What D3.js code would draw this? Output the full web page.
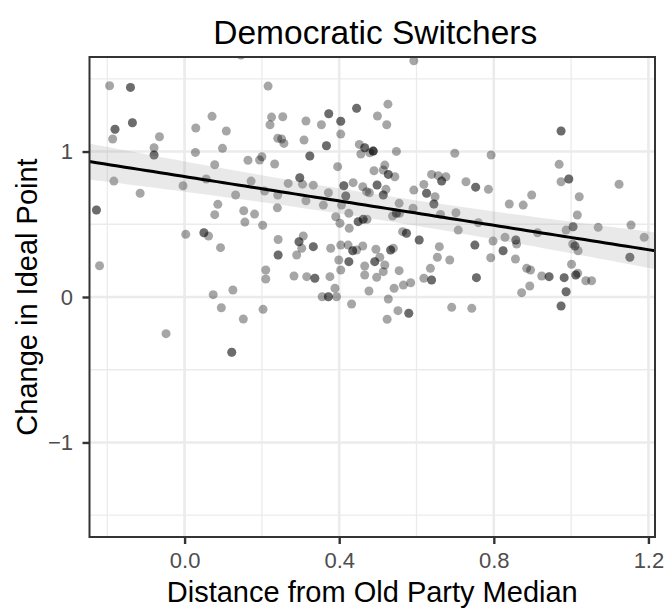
<!DOCTYPE html>
<html>
<head>
<meta charset="utf-8">
<script src="https://cdn.jsdelivr.net/npm/d3@7"></script>
<style>
body { margin: 0; background: #fff; }
text { font-family: "Liberation Sans", Arial, Helvetica, sans-serif; }
</style>
</head>
<body>
<svg id="chart" width="668" height="611"></svg>
<script>
// [distance from old party median, change in ideal point]
var switchers = [
    [0.146, 1.663], [-0.194, 1.452], [-0.140, 1.441], [-0.140, 1.441], [0.216, 1.450], [-0.180, 1.153], [-0.180, 1.153], [-0.186, 1.086], [-0.135, 1.198], [-0.135, 1.198],
    [-0.065, 1.102], [-0.079, 1.026], [-0.079, 0.976], [-0.079, 0.976], [0.071, 1.242], [0.029, 1.162], [0.108, 1.141], [0.098, 1.022], [0.028, 0.994], [0.078, 0.909],
    [0.225, 1.237], [0.221, 1.184], [0.241, 1.091], [0.164, 0.940], [0.194, 0.942], [0.200, 0.964], [0.233, 0.914], [-0.183, 0.797], [-0.004, 0.765], [0.056, 0.811],
    [0.172, 0.797],
    [-0.115, 0.713], [-0.228, 0.598], [-0.228, 0.598], [0.132, 0.701], [0.207, 0.729], [0.241, 0.701], [0.086, 0.637], [0.078, 0.566], [0.153, 0.593], [0.181, 0.570],
    [0.156, 0.515], [0.202, 0.493], [0.240, 0.613], [0.003, 0.431], [0.050, 0.442], [0.050, 0.442], [0.062, 0.419], [0.093, 0.339], [0.242, 0.395], [0.242, 0.289],
    [0.242, 0.289], [-0.220, 0.215], [0.210, 0.186], [0.210, 0.124], [0.074, 0.016], [0.125, 0.048], [0.095, -0.074], [0.203, -0.085], [0.152, -0.151], [-0.048, -0.252],
    [0.122, -0.380], [0.122, -0.380],
    [0.593, 1.624], [0.254, 1.239], [0.314, 1.210], [0.354, 1.184], [0.373, 1.260], [0.373, 1.260], [0.404, 1.208], [0.404, 1.208], [0.445, 1.297], [0.445, 1.297],
    [0.526, 1.326], [0.499, 1.244], [0.523, 1.184], [0.404, 1.120], [0.251, 1.086], [0.257, 1.056], [0.309, 1.079], [0.367, 1.040], [0.367, 1.040], [0.324, 0.969],
    [0.324, 0.969], [0.396, 0.896], [0.452, 1.049], [0.466, 1.026], [0.466, 1.026], [0.488, 1.003], [0.488, 1.003], [0.488, 1.003], [0.456, 0.983], [0.479, 0.992],
    [0.548, 1.001], [0.699, 0.988], [0.518, 0.907], [0.490, 0.868], [0.514, 0.873], [0.527, 0.843], [0.527, 0.843], [0.544, 0.827], [0.268, 0.781], [0.298, 0.820],
    [0.298, 0.820], [0.305, 0.776], [0.333, 0.769], [0.412, 0.765], [0.412, 0.765], [0.436, 0.786], [0.639, 0.843], [0.656, 0.834], [0.676, 0.827], [0.665, 0.797],
    [0.665, 0.797], [0.619, 0.774],
    [0.314, 0.662], [0.359, 0.632], [0.372, 0.717], [0.417, 0.694], [0.417, 0.694], [0.461, 0.758], [0.471, 0.724], [0.478, 0.717], [0.498, 0.770], [0.498, 0.770],
    [0.514, 0.701], [0.514, 0.701], [0.521, 0.740], [0.406, 0.632], [0.425, 0.575], [0.391, 0.552], [0.402, 0.507], [0.426, 0.472], [0.449, 0.518], [0.449, 0.518],
    [0.462, 0.534], [0.462, 0.534], [0.472, 0.534], [0.555, 0.644], [0.591, 0.610], [0.548, 0.575], [0.548, 0.575], [0.556, 0.575], [0.538, 0.557], [0.593, 0.735],
    [0.626, 0.713], [0.626, 0.713], [0.648, 0.689], [0.645, 0.639], [0.645, 0.639], [0.662, 0.568], [0.702, 0.579], [0.708, 0.460], [0.564, 0.449], [0.574, 0.438],
    [0.574, 0.438], [0.607, 0.392], [0.607, 0.392], [0.659, 0.346], [0.654, 0.273], [0.686, 0.254], [0.636, 0.197], [0.619, 0.129], [0.639, 0.117], [0.639, 0.117],
    [0.296, 0.380], [0.296, 0.380], [0.307, 0.419], [0.303, 0.335], [0.333, 0.346], [0.333, 0.346], [0.290, 0.289], [0.378, 0.335], [0.404, 0.357], [0.423, 0.357],
    [0.435, 0.318], [0.435, 0.318], [0.445, 0.323], [0.461, 0.351], [0.495, 0.328], [0.533, 0.323], [0.533, 0.323], [0.540, 0.335], [0.399, 0.254], [0.425, 0.243],
    [0.425, 0.243], [0.404, 0.186], [0.466, 0.213], [0.492, 0.243], [0.492, 0.243], [0.505, 0.273], [0.518, 0.220], [0.514, 0.174], [0.466, 0.151], [0.497, 0.135],
    [0.555, 0.181], [0.283, 0.144], [0.316, 0.140], [0.337, 0.129], [0.337, 0.129], [0.376, 0.140], [0.389, 0.060], [0.356, 0.002], [0.372, 0.002], [0.372, 0.002],
    [0.393, 0.002], [0.477, 0.041], [0.432, -0.048], [0.527, -0.014], [0.542, 0.060], [0.566, 0.082], [0.585, 0.098], [0.552, -0.094], [0.580, -0.112], [0.580, -0.112],
    [0.524, -0.153], [0.691, -0.071],
    [0.974, 1.141], [0.974, 1.141], [0.793, 0.976], [0.969, 0.912], [0.974, 0.792], [0.994, 0.811], [0.994, 0.811], [1.124, 0.775], [0.728, 0.792], [0.753, 0.755],
    [0.753, 0.755], [0.786, 0.740], [0.840, 0.639], [0.876, 0.632], [0.898, 0.701], [1.021, 0.689], [1.016, 0.564], [0.760, 0.511], [1.005, 0.483], [1.005, 0.483],
    [0.987, 0.460], [1.070, 0.479], [1.155, 0.495], [1.189, 0.410], [0.913, 0.442], [0.798, 0.385], [0.829, 0.410], [0.857, 0.392], [0.857, 0.392], [0.859, 0.364],
    [0.751, 0.357], [0.751, 0.357], [0.824, 0.318], [0.824, 0.318], [0.792, 0.270], [0.856, 0.261], [1.004, 0.364], [1.010, 0.351], [1.010, 0.351], [1.018, 0.318],
    [1.152, 0.273], [1.152, 0.273], [1.001, 0.225], [0.885, 0.197], [0.895, 0.186], [0.924, 0.144], [0.943, 0.140], [0.943, 0.140], [0.982, 0.133], [0.982, 0.133],
    [1.012, 0.151], [1.012, 0.151], [1.017, 0.163], [1.038, 0.112], [1.053, 0.112], [0.755, 0.133], [0.755, 0.133], [0.893, 0.076], [0.872, 0.030], [0.987, 0.036],
    [0.987, 0.036], [0.974, -0.062], [0.974, -0.062], [0.743, -0.078]
];

// fitted lm line and its 95% band
var fitIntercept = 0.828;
var fitSlope = -0.419;
var fitCenter = 0.47;      // x where the band is narrowest
var bandAtCenter = 0.086;  // half width there
var bandGrowth = 0.1245;   // half width grows with |x - center|

var xTicks = [0.0, 0.4, 0.8, 1.2];
var xMinor = [-0.2, 0.2, 0.6, 1.0];
var yTicks = [-1, 0, 1];
var yMinor = [-1.5, -0.5, 0.5, 1.5];
var xLimits = [-0.246, 1.217];
var yLimits = [-1.65, 1.65];

var titleText = "Democratic Switchers";
var xTitle = "Distance from Old Party Median";
var yTitle = "Change in Ideal Point";

var margin = {left: 89.5, right: 13, top: 57, bottom: 74};
var width = 668, height = 611;

var svg = d3.select("#chart");

var x = d3.scaleLinear().domain(xLimits).range([margin.left, width - margin.right]);
var y = d3.scaleLinear().domain(yLimits).range([height - margin.bottom, margin.top]);

//网格线
function vLines(g, data, w) {
    g.selectAll(null).data(data).enter().append("line")
        .attr("x1", function (d) { return x(d) })
        .attr("x2", function (d) { return x(d) })
        .attr("y1", y.range()[0])
        .attr("y2", y.range()[1])
        .attr("stroke", "#ebebeb")
        .attr("stroke-width", w);
}
function hLines(g, data, w) {
    g.selectAll(null).data(data).enter().append("line")
        .attr("y1", function (d) { return y(d) })
        .attr("y2", function (d) { return y(d) })
        .attr("x1", x.range()[0])
        .attr("x2", x.range()[1])
        .attr("stroke", "#ebebeb")
        .attr("stroke-width", w);
}
var grid = svg.append("g").classed("grid", true);
vLines(grid, xMinor, 1.3);
hLines(grid, yMinor, 1.3);
vLines(grid, xTicks, 2.6);
hLines(grid, yTicks, 2.6);

svg.append("clipPath").attr("id", "panel-clip")
    .append("rect")
    .attr("x", x.range()[0])
    .attr("y", y.range()[1])
    .attr("width", x.range()[1] - x.range()[0])
    .attr("height", y.range()[0] - y.range()[1]);

var panel = svg.append("g").attr("clip-path", "url(#panel-clip)");

//点
panel.selectAll("circle.pt").data(switchers).enter().append("circle")
    .classed("pt", true)
    .attr("cx", function (d) { return x(d[0]) })
    .attr("cy", function (d) { return y(d[1]) })
    .attr("r", 4.5)
    .attr("fill", "#000")
    .attr("fill-opacity", 0.35);

//回归线 + 置信带
var fit = d3.range(0, 81).map(function (i) {
    var xv = xLimits[0] + (xLimits[1] - xLimits[0]) * i / 80;
    var yhat = fitIntercept + fitSlope * xv;
    var dx = (xv - fitCenter) * bandGrowth;
    var half = Math.sqrt(bandAtCenter * bandAtCenter + dx * dx);
    return {x: xv, y: yhat, lo: yhat - half, hi: yhat + half};
});

panel.append("path")
    .datum(fit)
    .attr("d", d3.area()
        .x(function (d) { return x(d.x) })
        .y0(function (d) { return y(d.lo) })
        .y1(function (d) { return y(d.hi) }))
    .attr("fill", "#999")
    .attr("fill-opacity", 0.22);

panel.append("path")
    .datum(fit)
    .attr("d", d3.line()
        .x(function (d) { return x(d.x) })
        .y(function (d) { return y(d.y) }))
    .attr("fill", "none")
    .attr("stroke", "#000")
    .attr("stroke-width", 3);

//坐标轴
var xAxis = svg.append("g")
    .attr("transform", "translate(0," + y.range()[0] + ")")
    .call(d3.axisBottom(x).tickValues(xTicks).tickFormat(d3.format(".1f")).tickSize(7).tickPadding(8));
var yAxis = svg.append("g")
    .attr("transform", "translate(" + x.range()[0] + ",0)")
    .call(d3.axisLeft(y).tickValues(yTicks).tickFormat(d3.format("d")).tickSize(7).tickPadding(9.5));

[xAxis, yAxis].forEach(function (ax) {
    ax.select(".domain").remove();
    ax.selectAll(".tick line").attr("stroke", "#333").attr("stroke-width", 2.4);
    ax.selectAll(".tick text")
        .attr("fill", "#4d4d4d")
        .attr("font-size", 22)
        .attr("font-family", "Liberation Sans, Arial, sans-serif");
});

//边框
svg.append("rect")
    .attr("x", x.range()[0])
    .attr("y", y.range()[1])
    .attr("width", x.range()[1] - x.range()[0])
    .attr("height", y.range()[0] - y.range()[1])
    .attr("fill", "none")
    .attr("stroke", "#333")
    .attr("stroke-width", 2);

//标题
var cx = (x.range()[0] + x.range()[1]) / 2;
svg.append("text")
    .attr("x", cx + 3)
    .attr("y", 44)
    .attr("text-anchor", "middle")
    .attr("font-size", 33.5)
    .attr("fill", "#000")
    .text(titleText);

svg.append("text")
    .attr("x", cx)
    .attr("y", 601.5)
    .attr("text-anchor", "middle")
    .attr("font-size", 29)
    .attr("fill", "#000")
    .text(xTitle);

svg.append("text")
    .attr("transform", "translate(37," + ((y.range()[0] + y.range()[1]) / 2) + ") rotate(-90)")
    .attr("text-anchor", "middle")
    .attr("font-size", 29)
    .attr("fill", "#000")
    .text(yTitle);
</script>
</body>
</html>
